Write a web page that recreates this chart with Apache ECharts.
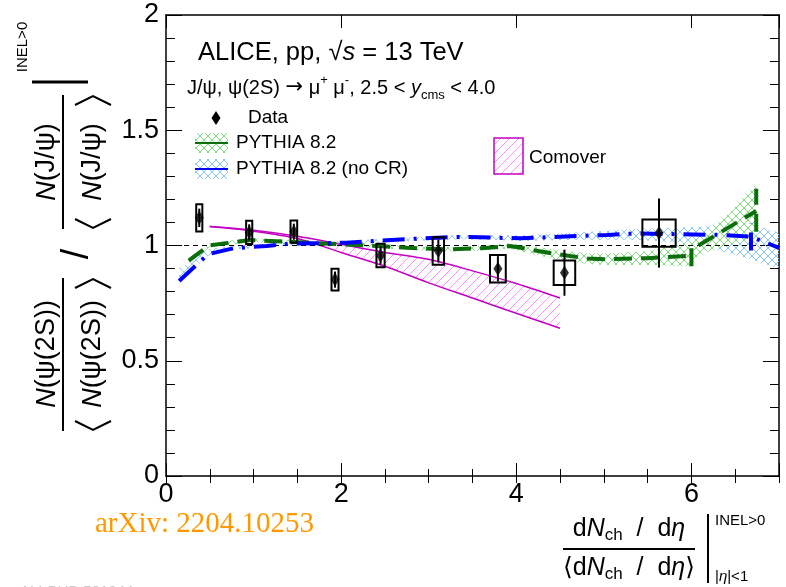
<!DOCTYPE html>
<html>
<head>
<meta charset="utf-8">
<script src="https://cdn.jsdelivr.net/npm/echarts@6/dist/echarts.min.js"></script>
<style>
  html, body { margin: 0; padding: 0; background: #ffffff; }
  #chart { width: 786px; height: 587px; }
</style>
</head>
<body>
<div id="chart"></div>
<script>
// ---- Measured double ratio vs. normalised multiplicity ----
const multX   = [0.38, 0.95, 1.46, 1.93, 2.45, 3.11, 3.79, 4.55, 5.63];
const ratioY  = [1.12, 1.057, 1.06, 0.852, 0.957, 0.976, 0.899, 0.882, 1.054];
const statErr = [0.04, 0.035, 0.035, 0.035, 0.04, 0.05, 0.055, 0.10, 0.15];
const sysErrX = [0.035, 0.035, 0.038, 0.04, 0.047, 0.065, 0.09, 0.123, 0.19];
const sysErrY = [0.059, 0.05, 0.048, 0.047, 0.051, 0.06, 0.06, 0.053, 0.059];

// ---- PYTHIA 8.2 (with colour reconnection) ----
const pythiaX = [0.26, 0.49, 0.96, 1.46, 2.2, 2.75, 3.2, 3.6, 3.93, 4.4, 4.81, 5.03, 5.5, 5.95, 6.0];
const pythiaY = [0.934, 1.0, 1.024, 1.015, 1.002, 0.99, 0.983, 0.988, 0.998, 0.966, 0.944, 0.94, 0.945, 0.955, 0.97];
const pythiaX2 = [6.08, 6.74];
const pythiaY2 = [1.0, 1.15];
const pythiaBandX  = [0.26, 0.49, 0.96, 1.46, 2.2, 2.75, 3.2, 3.6, 3.93, 4.4, 4.81, 5.03, 5.5, 6.0, 6.08, 6.4, 6.74];
const pythiaBandLo = [0.925, 0.99, 1.015, 1.007, 0.994, 0.982, 0.974, 0.978, 0.985, 0.945, 0.92, 0.915, 0.915, 0.91, 0.96, 1.0, 1.03];
const pythiaBandHi = [0.945, 1.01, 1.032, 1.024, 1.01, 0.998, 0.993, 0.998, 1.01, 0.985, 0.965, 0.965, 0.975, 1.02, 1.04, 1.13, 1.27];
const pythiaEdges  = [[6.0, 0.91, 1.02], [6.74, 1.06, 1.246]];

// ---- PYTHIA 8.2 without colour reconnection ----
const noCrX  = [0.15, 0.48, 0.77, 1.15, 1.42, 2.06, 2.43, 2.73, 3.17, 3.4, 3.74, 4.05, 4.69, 5.04, 5.35, 6.02, 6.35, 6.68, 7.0];
const noCrY  = [0.846, 0.962, 0.988, 0.998, 1.008, 1.012, 1.021, 1.027, 1.035, 1.038, 1.034, 1.031, 1.041, 1.046, 1.052, 1.048, 1.046, 1.038, 0.99];
const noCrLo = [0.84, 0.955, 0.983, 0.992, 1.0, 1.005, 1.012, 1.018, 1.025, 1.027, 1.024, 1.02, 1.025, 1.025, 1.025, 1.01, 0.975, 0.94, 0.9];
const noCrHi = [0.9, 0.985, 0.998, 1.006, 1.014, 1.02, 1.028, 1.034, 1.043, 1.046, 1.044, 1.043, 1.056, 1.064, 1.072, 1.08, 1.09, 1.095, 1.055];
const noCrEdges = [[6.68, 0.978, 1.097]];

// ---- Comover model band ----
const comoverX  = [0.5, 1.0, 1.5, 2.0, 2.5, 3.0, 3.5, 4.0, 4.5];
const comoverHi = [1.082, 1.066, 1.04, 1.005, 0.97, 0.94, 0.89, 0.835, 0.772];
const comoverLo = [1.082, 1.062, 1.03, 0.97, 0.91, 0.838, 0.772, 0.706, 0.641];

// ---- Axis ticks ----
const xTicksMajor = 2, xTicksMinor = 0.5;
const yTicksMajor = 0.5;
const refLevel = 1;

const FONT = "'Liberation Sans', Arial, Helvetica, sans-serif";
const SERIF = "'Liberation Serif', 'Times New Roman', serif";
const GREEN = '#0b6e0b';
const BLUE = '#0000ff';
const MAGENTA = '#c400c4';

function hatch(color, kind, size) {
  const c = document.createElement('canvas');
  c.width = size; c.height = size;
  const g = c.getContext('2d');
  g.strokeStyle = color; g.lineWidth = 1;
  g.beginPath();
  g.moveTo(-1, size + 1); g.lineTo(size + 1, -1);
  if (kind === 'cross') { g.moveTo(-1, -1); g.lineTo(size + 1, size + 1); }
  g.stroke();
  return { image: c, repeat: 'repeat' };
}
const greenHatch = hatch('#7fdc7f', 'cross', 8);
const blueHatch = hatch('#8cc6ff', 'cross', 8);
const pinkHatch = hatch('#ff8cff', 'fwd', 9);

function pairs(xs, ys) { return xs.map((x, i) => [x, ys[i]]); }

function bandSeries(xs, lo, hi, fill, z) {
  return {
    type: 'custom', z: z, silent: true, data: [0],
    renderItem: function (params, api) {
      const pts = [];
      for (let i = 0; i < xs.length; i++) pts.push(api.coord([xs[i], hi[i]]));
      for (let i = xs.length - 1; i >= 0; i--) pts.push(api.coord([xs[i], lo[i]]));
      return { type: 'polygon', shape: { points: pts }, style: { fill: fill, stroke: null } };
    }
  };
}

function lineSeries(data, color, width, dash, z, smooth) {
  return {
    type: 'line', data: data, z: z, silent: true, showSymbol: false, symbol: 'none',
    smooth: smooth || false, animation: false,
    lineStyle: { color: color, width: width, type: dash }
  };
}

const series = [];
series.push(bandSeries(noCrX, noCrLo, noCrHi, blueHatch, 1));
series.push(bandSeries(pythiaBandX, pythiaBandLo, pythiaBandHi, greenHatch, 1));
series.push(bandSeries(comoverX, comoverLo, comoverHi, pinkHatch, 2));
series.push(lineSeries(pairs(comoverX, comoverHi), MAGENTA, 1.5, 'solid', 3, 0.3));
series.push(lineSeries(pairs(comoverX, comoverLo), MAGENTA, 1.5, 'solid', 3, 0.3));
series.push(lineSeries([[0, refLevel], [7, refLevel]], '#000', 1, [5, 4], 3));
series.push(lineSeries(pairs(pythiaX, pythiaY), GREEN, 4, [18, 9], 4));
series.push(lineSeries(pairs(pythiaX2, pythiaY2), GREEN, 4, [18, 9], 4));
pythiaEdges.forEach(e => series.push(lineSeries([[e[0], e[1]], [e[0], e[2]]], GREEN, 4, [18, 9], 4)));
series.push(lineSeries(pairs(noCrX, noCrY), BLUE, 4, [22, 9, 3, 9], 4));
noCrEdges.forEach(e => series.push(lineSeries([[e[0], e[1]], [e[0], e[2]]], BLUE, 4, [18, 9], 4)));

// systematic boxes and statistical bars
series.push({
  type: 'custom', z: 6, silent: true,
  dimensions: ['x', 'y', 'stat', 'sx', 'sy'],
  encode: { x: 0, y: 1 },
  data: multX.map((x, i) => [x, ratioY[i], statErr[i], sysErrX[i], sysErrY[i]]),
  renderItem: function (params, api) {
    const x = api.value(0), y = api.value(1), st = api.value(2), sx = api.value(3), sy = api.value(4);
    const tl = api.coord([x - sx, y + sy]);
    const br = api.coord([x + sx, y - sy]);
    const top = api.coord([x, y + st]);
    const bot = api.coord([x, y - st]);
    return {
      type: 'group',
      children: [
        { type: 'rect', shape: { x: tl[0], y: tl[1], width: br[0] - tl[0], height: br[1] - tl[1] },
          style: { fill: 'none', stroke: '#000', lineWidth: 2 } },
        { type: 'line', shape: { x1: top[0], y1: top[1], x2: bot[0], y2: bot[1] },
          style: { stroke: '#000', lineWidth: 2 } }
      ]
    };
  }
});
series.push({
  type: 'scatter', z: 7, silent: true, symbol: 'diamond', symbolSize: [9, 14],
  itemStyle: { color: '#000' },
  data: pairs(multX, ratioY)
});

const tickStyle = { color: '#000', width: 1 };
const xBase = { type: 'value', min: 0, max: 7, splitLine: { show: false },
  axisLine: { show: true, onZero: false, lineStyle: { color: '#000', width: 1.5 } } };
const yBase = { type: 'value', min: 0, max: 2, interval: yTicksMajor, splitLine: { show: false },
  axisLine: { show: true, onZero: false, lineStyle: { color: '#000', width: 1.5 } },
  axisTick: { inside: true, length: 16, lineStyle: tickStyle },
  minorTick: { show: true, splitNumber: 5, length: 9, lineStyle: tickStyle } };

function txt(x, y, text, rich, align, vAlign, extra) {
  return Object.assign({
    type: 'text', x: x, y: y, silent: true,
    style: { text: text, rich: rich, align: align || 'left', verticalAlign: vAlign || 'middle',
             textAlign: align || 'left', textVerticalAlign: vAlign || 'middle' }
  }, extra || {});
}
function r(size, opts) { return Object.assign({ fontSize: size, fontFamily: FONT, fill: '#000' }, opts || {}); }

// y-axis title, built horizontally then turned to read upwards
const yTitle = {
  type: 'group', x: 0, y: 440, rotation: Math.PI / 2, silent: true,
  children: [
    txt(86, 47, '{i|N}{n|(ψ(2S))}', { i: r(27, { fontStyle: 'italic' }), n: r(27) }, 'center'),
    { type: 'line', shape: { x1: 9, y1: 63, x2: 162, y2: 63 }, style: { stroke: '#000', lineWidth: 2 } },
    txt(86, 93, '{i|N}{n|(ψ(2S))}', { i: r(27, { fontStyle: 'italic' }), n: r(27) }, 'center'),
    { type: 'polyline', shape: { points: [[19, 75], [10, 93], [19, 111]] }, style: { stroke: '#000', lineWidth: 2, fill: null } },
    { type: 'polyline', shape: { points: [[152, 75], [161, 93], [152, 111]] }, style: { stroke: '#000', lineWidth: 2, fill: null } },
    txt(186, 78, '{n|/}', { n: r(38) }, 'center'),
    txt(278, 47, '{i|N}{n|(J/ψ)}', { i: r(27, { fontStyle: 'italic' }), n: r(27) }, 'center'),
    { type: 'line', shape: { x1: 211, y1: 63, x2: 345, y2: 63 }, style: { stroke: '#000', lineWidth: 2 } },
    txt(278, 93, '{i|N}{n|(J/ψ)}', { i: r(27, { fontStyle: 'italic' }), n: r(27) }, 'center'),
    { type: 'polyline', shape: { points: [[221, 75], [212, 93], [221, 111]] }, style: { stroke: '#000', lineWidth: 2, fill: null } },
    { type: 'polyline', shape: { points: [[335, 75], [344, 93], [335, 111]] }, style: { stroke: '#000', lineWidth: 2, fill: null } },
    { type: 'line', shape: { x1: 358, y1: 32, x2: 358, y2: 88 }, style: { stroke: '#000', lineWidth: 3 } },
    txt(393, 23, '{n|INEL>0}', { n: r(15) }, 'center')
  ]
};

const graphics = [
  yTitle,
  // header
  txt(198, 53, '{n|ALICE, pp, √}{i|s}{n| = 13 TeV}', { n: r(25.5), i: r(25.5, { fontStyle: 'italic' }) }),
  txt(187, 88, '{n|J/ψ, ψ(2S) }{a|→}{n| μ}{sup|+}{n| μ}{sup|-}{n|, 2.5 < }{i|y}{sub|cms}{n| < 4.0}',
      { n: r(20, { lineHeight: 28 }), i: r(20, { fontStyle: 'italic', lineHeight: 28 }),
        a: r(21, { lineHeight: 28, fontFamily: "'DejaVu Sans', sans-serif" }),
        sup: r(13, { lineHeight: 14, verticalAlign: 'top' }), sub: r(13, { lineHeight: 14, verticalAlign: 'bottom' }) }),
  // legend
  { type: 'polygon', silent: true, shape: { points: [[216, 111], [220.5, 118], [216, 125], [211.5, 118]] }, style: { fill: '#000' } },
  txt(248, 118, '{n|Data}', { n: r(19) }),
  { type: 'rect', silent: true, shape: { x: 195, y: 133, width: 33, height: 20 }, style: { fill: greenHatch } },
  { type: 'line', silent: true, shape: { x1: 195, y1: 143, x2: 228, y2: 143 }, style: { stroke: GREEN, lineWidth: 2 } },
  txt(236, 143, '{n|PYTHIA 8.2}', { n: r(19) }),
  { type: 'rect', silent: true, shape: { x: 195, y: 159, width: 33, height: 20 }, style: { fill: blueHatch } },
  { type: 'line', silent: true, shape: { x1: 195, y1: 169, x2: 228, y2: 169 }, style: { stroke: BLUE, lineWidth: 2 } },
  txt(236, 169, '{n|PYTHIA 8.2 (no CR)}', { n: r(19) }),
  { type: 'rect', silent: true, shape: { x: 494, y: 138, width: 29, height: 36 }, style: { fill: pinkHatch, stroke: MAGENTA, lineWidth: 1.5 } },
  txt(529, 158, '{n|Comover}', { n: r(19) }),
  // x-axis title
  txt(629, 529, '{n|d}{i|N}{sub|ch}{n|  /  d}{i|η}',
      { n: r(25, { lineHeight: 30 }), i: r(25, { fontStyle: 'italic', lineHeight: 30 }), sub: r(17, { lineHeight: 17, verticalAlign: 'bottom' }) }, 'center'),
  { type: 'line', silent: true, shape: { x1: 563, y1: 549, x2: 695, y2: 549 }, style: { stroke: '#000', lineWidth: 2 } },
  txt(629, 568, '{b|⟨}{n|d}{i|N}{sub|ch}{n|  /  d}{i|η}{b|⟩}',
      { b: r(25, { lineHeight: 30, fontFamily: "'DejaVu Sans', sans-serif" }), n: r(25, { lineHeight: 30 }),
        i: r(25, { fontStyle: 'italic', lineHeight: 30 }), sub: r(17, { lineHeight: 17, verticalAlign: 'bottom' }) }, 'center'),
  { type: 'line', silent: true, shape: { x1: 708, y1: 514, x2: 708, y2: 583 }, style: { stroke: '#000', lineWidth: 2 } },
  txt(715, 521, '{n|INEL>0}', { n: r(15) }),
  txt(715, 577, '{n||}{i|η}{n||<1}', { n: r(15), i: r(15, { fontStyle: 'italic' }) }),
  // reference
  txt(95, 524, '{n|arXiv: 2204.10253}', { n: { fontSize: 29, fontFamily: SERIF, fill: '#ff9900' } }),
  txt(20, 584, '{n|ALI-PUB-501344}', { n: r(15, { fill: '#c8c8c8' }) }, 'left', 'top')
];

const chart = echarts.init(document.getElementById('chart'), null, { renderer: 'canvas' });
chart.setOption({
  animation: false,
  backgroundColor: '#ffffff',
  grid: { left: 166, right: 7, top: 15, bottom: 111, containLabel: false },
  xAxis: [
    Object.assign({}, xBase, { position: 'bottom', interval: xTicksMajor,
      axisTick: { inside: true, length: 13, lineStyle: tickStyle },
      axisLabel: { fontSize: 27, color: '#000', fontFamily: FONT, margin: 5,
        formatter: v => (v % xTicksMajor === 0 ? String(v) : '') } }),
    Object.assign({}, xBase, { position: 'bottom', interval: xTicksMinor, axisLine: { show: false },
      axisTick: { inside: true, length: 7, lineStyle: tickStyle }, axisLabel: { show: false } }),
    Object.assign({}, xBase, { position: 'top', interval: xTicksMajor,
      axisTick: { inside: true, length: 13, lineStyle: tickStyle }, axisLabel: { show: false } }),
    Object.assign({}, xBase, { position: 'top', interval: xTicksMinor, axisLine: { show: false },
      axisTick: { inside: true, length: 7, lineStyle: tickStyle }, axisLabel: { show: false } })
  ],
  yAxis: [
    Object.assign({}, yBase, { position: 'left',
      axisLabel: { fontSize: 27, color: '#000', fontFamily: FONT, margin: 7 } }),
    Object.assign({}, yBase, { position: 'right', axisLabel: { show: false } })
  ],
  series: series,
  graphic: graphics
});
</script>
</body>
</html>
